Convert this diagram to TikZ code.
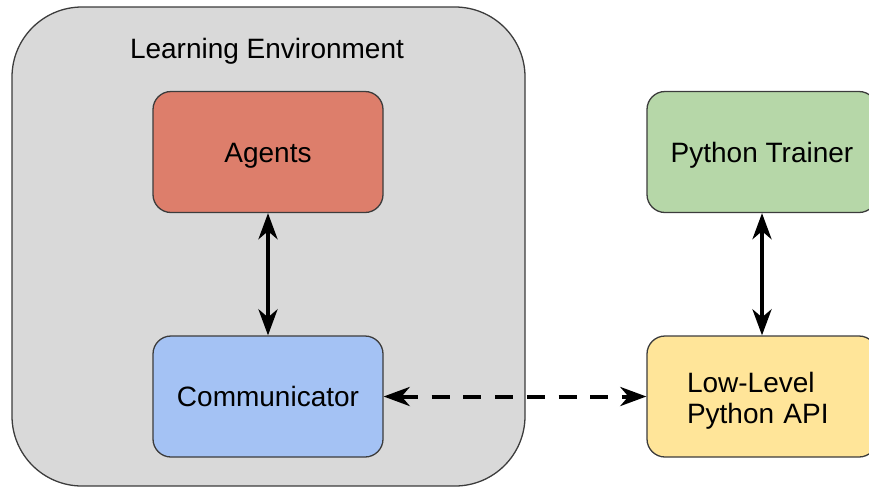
\documentclass[tikz,border=0pt]{standalone}
\usepackage{fontspec}
\setmainfont{Liberation Sans}
\usetikzlibrary{arrows.meta}
\definecolor{envgray}{HTML}{D9D9D9}
\definecolor{edgegray}{HTML}{3C3C3C}
\definecolor{agentred}{HTML}{DD7E6B}
\definecolor{commblue}{HTML}{A4C2F4}
\definecolor{traingreen}{HTML}{B6D7A8}
\definecolor{apiyellow}{HTML}{FFE599}
\begin{document}
\begin{tikzpicture}[x=1pt,y=-1pt,font=\fontsize{28}{31}\selectfont,
    box/.style={draw=edgegray,line width=1.3pt,rounded corners=18pt,minimum width=230pt,minimum height=121pt,inner sep=0pt},
    oneline/.style={text height=20pt,text depth=0pt},
    tip/.tip={Stealth[length=26pt,width=19pt,inset=8pt]},
    link/.style={line width=4pt,tip-tip}]
    \path[use as bounding box,clip](0,0)rectangle(869,488);

    \node[box,fill=envgray,rounded corners=70pt,minimum width=513pt,minimum height=479pt](env)at(268.5,246.5){};
    \node[anchor=base](envtitle)at(267,58){Learning Environment};

    \node[box,oneline,fill=agentred](agents)at(268,152){Agents};
    \node[box,oneline,fill=commblue](comm)at(268,396.5){Communicator};
    \node[box,oneline,fill=traingreen](trainer)at(762,152){Python Trainer};
    \node[box,fill=apiyellow,align=left,text width=150pt,inner xsep=40pt,text depth=29pt](api)at(762,396.5){Low-Level\\Python API};

    \draw[link](agents)--(comm);
    \draw[link](trainer)--(api);
    \draw[link,dash pattern=on 18pt off 13.7pt](comm)--(api);
\end{tikzpicture}
\end{document}
